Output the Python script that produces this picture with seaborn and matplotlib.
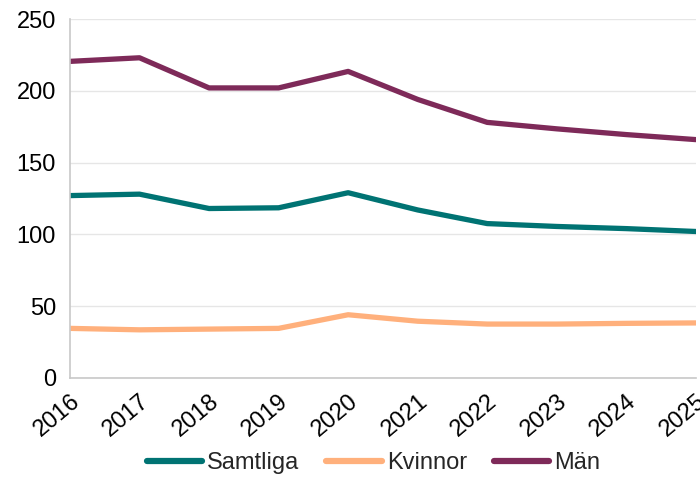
import matplotlib
matplotlib.use("Agg")
import matplotlib.pyplot as plt
import seaborn as sns
import pandas as pd

years = [2016, 2017, 2018, 2019, 2020, 2021, 2022, 2023, 2024, 2025]
samtliga = [127, 128, 118, 118.5, 129, 117, 107.5, 105.5, 104, 102]
kvinnor = [34.5, 33.5, 34, 34.5, 44, 39.5, 37.5, 37.5, 38, 38.3]
man = [220.5, 223, 202, 202, 213.5, 194, 178, 173.5, 169.5, 166]

series_names = ["Samtliga", "Kvinnor", "Män"]
colors = ["#007373", "#FFB07C", "#7E2A59"]

df = pd.DataFrame({"År": years, "Samtliga": samtliga, "Kvinnor": kvinnor, "Män": man})
long_df = df.melt(id_vars="År", var_name="Grupp", value_name="Värde")

sns.set_style("white")
plt.rcParams["font.family"] = ["Liberation Sans", "DejaVu Sans"]

fig = plt.figure(figsize=(7, 4.94), dpi=100)
ax = fig.add_axes([0.1, 0.235, 0.894, 0.7265])

sns.lineplot(data=long_df, x="År", y="Värde", hue="Grupp", hue_order=series_names,
             palette=colors, linewidth=3.8, ax=ax, legend=True)

ax.set_xlim(2016, 2025)
ax.set_ylim(0, 250)
ax.set_yticks(range(0, 251, 50))
ax.set_xticks(years)
ax.set_xticklabels([str(y) for y in years], rotation=40, ha="right",
                   rotation_mode="anchor", fontsize=17, color="black")
ax.tick_params(axis="y", labelsize=17, labelcolor="black", length=6, color="#c8c8c8", pad=4)
ax.tick_params(axis="x", length=6, color="#c8c8c8", pad=3)
ax.set_xlabel("")
ax.set_ylabel("")
ax.grid(axis="y", color="#e6e6e6", linewidth=1)
ax.set_axisbelow(True)
for side in ["top", "right"]:
    ax.spines[side].set_visible(False)
for side in ["left", "bottom"]:
    ax.spines[side].set_color("#c8c8c8")
    ax.spines[side].set_linewidth(1.2)

handles, labels = ax.get_legend_handles_labels()
ax.legend(handles, labels, loc="center", bbox_to_anchor=(0.485, -0.238),
          ncol=3, frameon=False, fontsize=17, handlelength=2.35,
          columnspacing=1.15, handletextpad=0.2)
for line in ax.get_legend().get_lines():
    line.set_linewidth(4.5)
    line.set_solid_capstyle("round")

fig.savefig("out.png", dpi=100)
